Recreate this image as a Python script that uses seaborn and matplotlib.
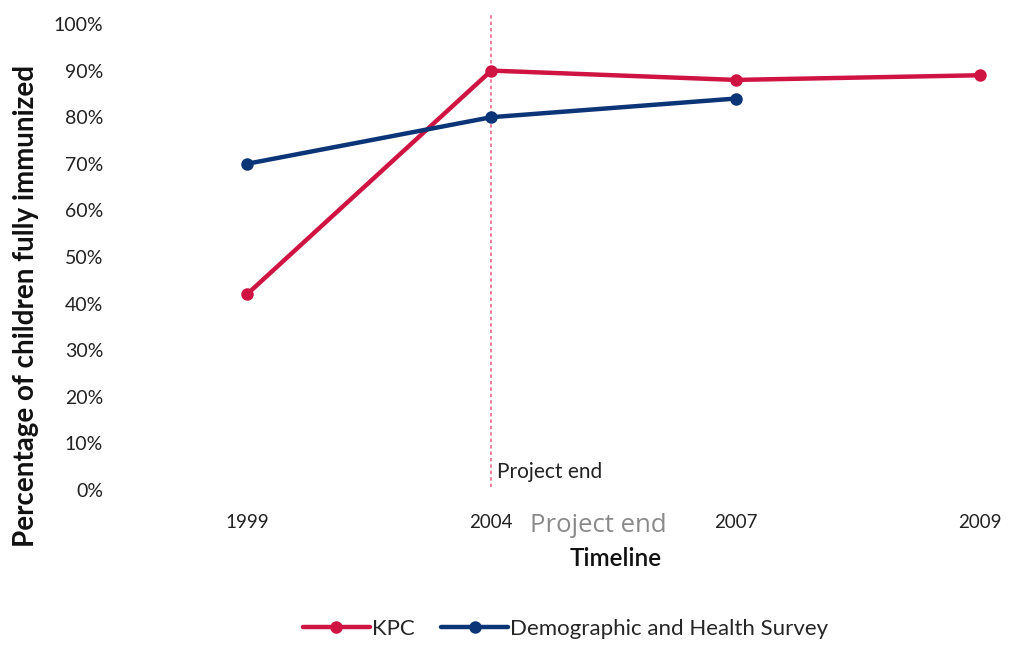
import matplotlib
matplotlib.use("Agg")
import matplotlib.pyplot as plt
import seaborn as sns
import pandas as pd
from matplotlib.lines import Line2D

years = ["1999", "2004", "2007", "2009"]
kpc = [42, 90, 88, 89]
dhs = [70, 80, 84]
series_names = ["KPC", "Demographic and Health Survey"]
colors = {"KPC": "#CF1443", "Demographic and Health Survey": "#0B3577"}
y_ticks = list(range(0, 101, 10))
project_end_year = "2004"

rows = []
for i, v in enumerate(kpc):
    rows.append({"pos": i, "value": v, "series": series_names[0]})
for i, v in enumerate(dhs):
    rows.append({"pos": i, "value": v, "series": series_names[1]})
df = pd.DataFrame(rows)

sns.set_theme(style="white")
plt.rcParams["font.family"] = ["Lato", "DejaVu Sans"]

fig = plt.figure(figsize=(10.10, 6.46), dpi=100)
W, H = 1010, 646
left_px, right_px, top_px, bottom_px = 110, 1005, 24, 490
ax = fig.add_axes([left_px / W, 1 - bottom_px / H,
                   (right_px - left_px) / W, (bottom_px - top_px) / H])

sns.lineplot(data=df, x="pos", y="value", hue="series", palette=colors,
             hue_order=series_names, marker="o", markersize=9, linewidth=3.2,
             markeredgewidth=0, ax=ax, legend=False, zorder=3)

x0 = (left_px - 247) / 244.3
x1 = (right_px - 247) / 244.3
ax.set_xlim(x0, x1)
ax.set_ylim(0, 100)

pe = years.index(project_end_year)
ax.plot([pe, pe], [0.6, 102.2], ls=(0, (2.2, 2)), color="#E8587C", lw=1.1,
        clip_on=False, zorder=2)
ax.text(pe + 0.025, 3.9, "Project end", fontsize=15, color="#222222",
        ha="left", va="center")

ax.set_xticks(range(len(years)))
ax.set_xticklabels(years, fontsize=13.5, color="#222222")
ax.set_yticks(y_ticks)
ax.set_yticklabels([f"{t}%" for t in y_ticks], fontsize=14, color="#222222")
ax.tick_params(axis="x", length=0, pad=17)
ax.tick_params(axis="y", length=0, pad=5)
for s in ax.spines.values():
    s.set_visible(False)
ax.set_xlabel("")
ax.set_ylabel("Percentage of children fully immunized", fontsize=20,
              fontweight="bold", color="#111111")
ax.yaxis.set_label_coords((39 - left_px) / (right_px - left_px),
                          (bottom_px - 306) / (bottom_px - top_px))

fig.text(598 / W, 1 - 525 / H, "Project end", fontsize=18.5, color="#8A8A8A",
         ha="center", va="center", family=["Open Sans", "DejaVu Sans"])
fig.text(616 / W, 1 - 559 / H, "Timeline", fontsize=17.5, color="#111111",
         ha="center", va="center", fontweight="semibold")

handles = [Line2D([0], [0], color=colors[n], lw=3.2, marker="o", markersize=9,
                  markeredgewidth=0) for n in series_names]
fig.legend(handles, series_names, loc="center", bbox_to_anchor=(0.56, 1 - 629 / H),
           ncol=2, frameon=False, fontsize=16, handlelength=3.0,
           handletextpad=0.1, columnspacing=1.2)

fig.savefig("out.png", dpi=100, facecolor="white")
